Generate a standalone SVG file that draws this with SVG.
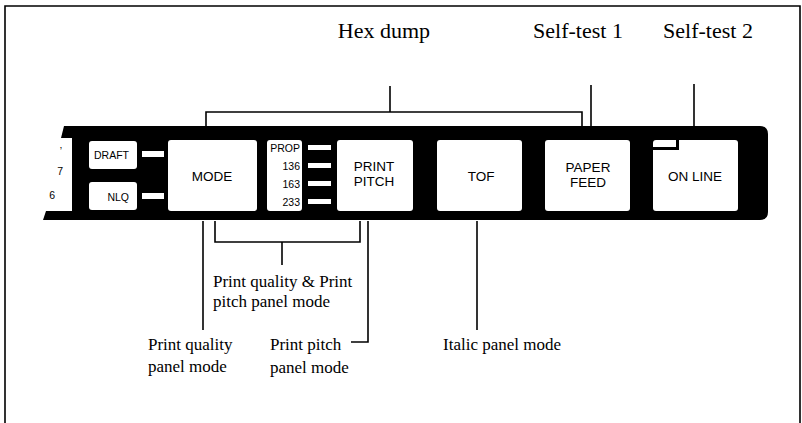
<svg xmlns="http://www.w3.org/2000/svg" width="802" height="423" viewBox="0 0 802 423">
<style>
.frame{fill:none;stroke:#000;stroke-width:1.6}
.ln{fill:none;stroke:#000;stroke-width:1.6}
.key{fill:#fff;rx:3}
.led{fill:#fff}
.kt{font-family:"Liberation Sans",Arial,sans-serif;font-size:13.5px;fill:#000;text-anchor:middle}
.st{font-family:"Liberation Sans",Arial,sans-serif;font-size:10.5px;fill:#000;text-anchor:end}
.big{font-family:"Liberation Serif","Times New Roman",serif;font-size:22px;fill:#000;text-anchor:middle}
.lab{font-family:"Liberation Serif","Times New Roman",serif;font-size:17px;fill:#000}
</style>
<rect width="802" height="423" fill="#fff"/>
<path class="frame" d="M5,423 V6 H800 V423"/>

<g id="panel">
  <path d="M64,126 H760 Q768,126 768,134 V212 Q768,220 760,220 H43 L46,211 H72 V138 H61 Z" fill="#000"/>
  <text class="st" x="62" y="155">’</text>
  <text class="st" x="63" y="175">7</text>
  <text class="st" x="55" y="199">6</text>
</g>

<g id="draft">
  <rect class="key" x="89" y="141" width="48" height="28"/>
  <text class="st" x="129" y="159">DRAFT</text>
  <rect class="led" x="142" y="151" width="22" height="6"/>
</g>
<g id="nlq">
  <rect class="key" x="89" y="182" width="48" height="28"/>
  <text class="st" x="129" y="201">NLQ</text>
  <rect class="led" x="142" y="193" width="22" height="6"/>
</g>
<g id="mode">
  <rect class="key" x="168" y="140" width="89" height="71"/>
  <text class="kt" x="212" y="181">MODE</text>
</g>
<g id="pitch-labels">
  <rect class="key" x="267" y="140" width="35" height="71"/>
  <text class="st" x="300" y="152">PROP</text>
  <text class="st" x="300" y="170">136</text>
  <text class="st" x="300" y="188">163</text>
  <text class="st" x="300" y="206">233</text>
  <rect class="led" x="308" y="145" width="23" height="5"/>
  <rect class="led" x="308" y="163" width="23" height="5"/>
  <rect class="led" x="308" y="181" width="23" height="5"/>
  <rect class="led" x="308" y="199" width="23" height="5"/>
</g>
<g id="print-pitch">
  <rect class="key" x="337" y="140" width="76" height="71"/>
  <text class="kt" x="374" y="171">PRINT</text>
  <text class="kt" x="374" y="186">PITCH</text>
</g>
<g id="tof">
  <rect class="key" x="437" y="140" width="85" height="71"/>
  <text class="kt" x="481" y="181">TOF</text>
</g>
<g id="paper-feed">
  <rect class="key" x="545" y="140" width="85" height="71"/>
  <text class="kt" x="588" y="172">PAPER</text>
  <text class="kt" x="588" y="187">FEED</text>
</g>
<g id="on-line">
  <rect class="key" x="653" y="140" width="85" height="71"/>
  <path d="M653,148.5 H677.5 V140" fill="none" stroke="#000" stroke-width="3"/>
  <text class="kt" x="695" y="181">ON LINE</text>
</g>

<g id="connectors">
  <path class="ln" d="M206,126 V112 H582 V126"/>
  <path class="ln" d="M390,112 V86"/>
  <path class="ln" d="M591,126 V85"/>
  <path class="ln" d="M694,126 V84"/>
  <path class="ln" d="M215,221 V242 H360 V221"/>
  <path class="ln" d="M282,242 V265"/>
  <path class="ln" d="M203,221 V330"/>
  <path class="ln" d="M368,221 V342 H351"/>
  <path class="ln" d="M477,221 V330"/>
</g>

<g id="labels">
  <text class="big" x="384" y="38">Hex dump</text>
  <text class="big" x="578" y="38">Self-test 1</text>
  <text class="big" x="708" y="38">Self-test 2</text>
  <text class="lab" x="213" y="287">Print quality &amp; Print</text>
  <text class="lab" x="213" y="307">pitch panel mode</text>
  <text class="lab" x="148" y="350">Print quality</text>
  <text class="lab" x="148" y="372">panel mode</text>
  <text class="lab" x="270" y="350">Print pitch</text>
  <text class="lab" x="270" y="373">panel mode</text>
  <text class="lab" x="443" y="350">Italic panel mode</text>
</g>
</svg>
